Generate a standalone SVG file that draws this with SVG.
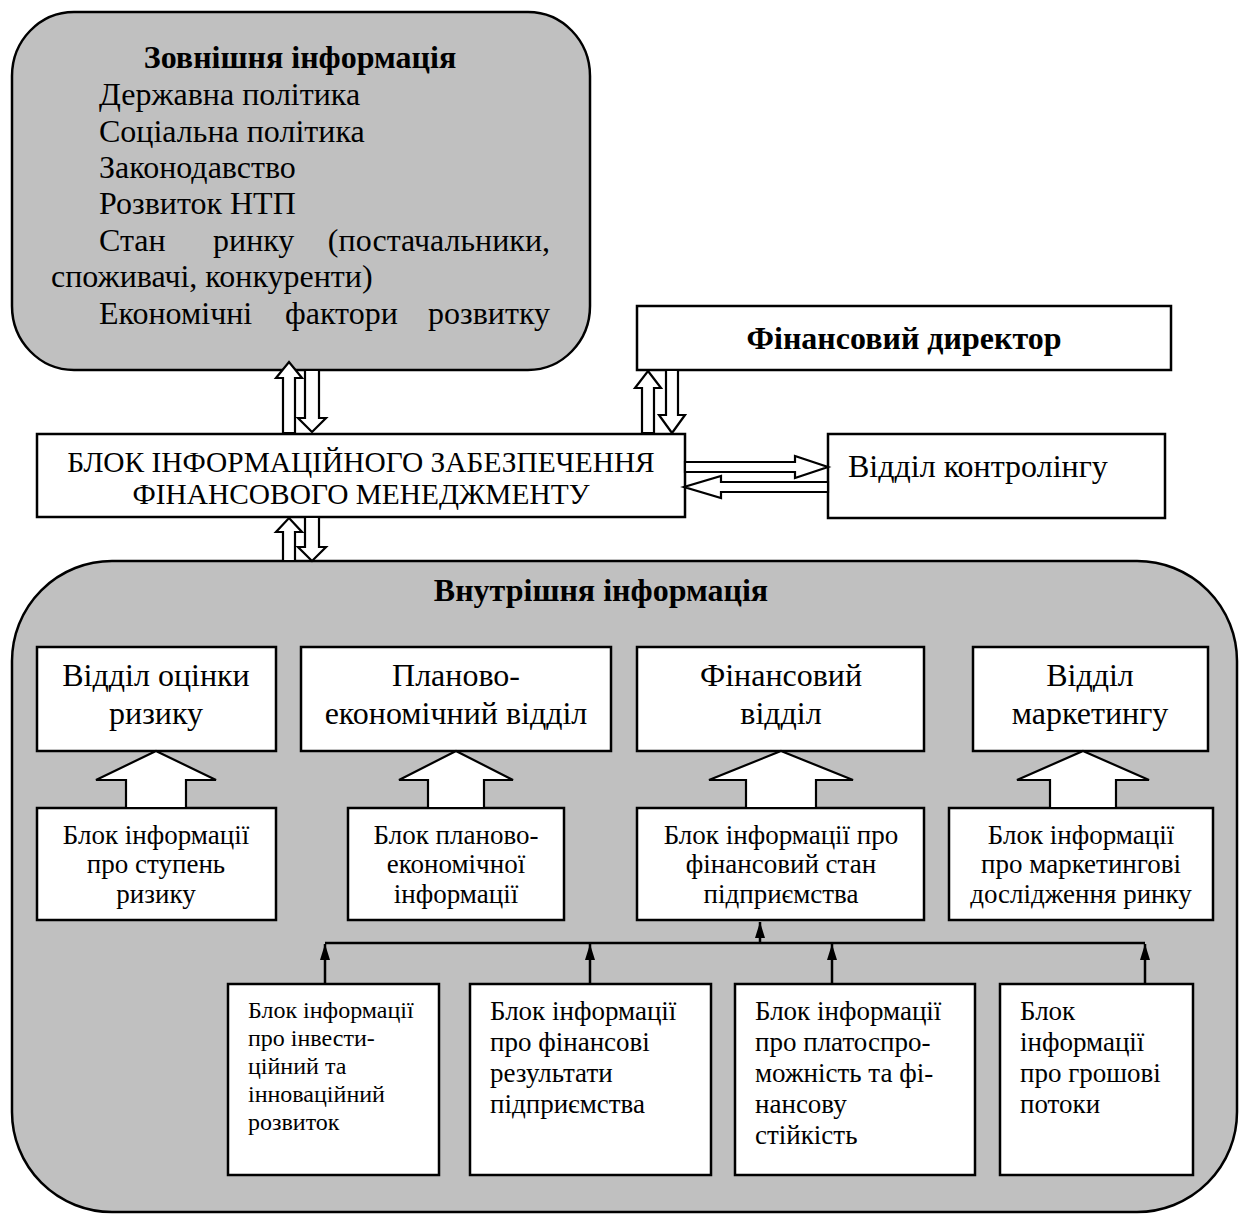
<svg xmlns="http://www.w3.org/2000/svg" width="1241" height="1215" viewBox="0 0 1241 1215">
<style>
text{font-family:"Liberation Serif","Times New Roman",serif;fill:#000}
.big{font-size:32px}
.bold{font-size:32px;font-weight:bold}
.mid{font-size:27px}
.sm{font-size:24px}
.c{text-anchor:middle}
.e{text-anchor:end}
.box{fill:#fff;stroke:#000;stroke-width:2.5}
.area{fill:#c0c0c0;stroke:#000;stroke-width:2.5}
.harrow{fill:#fff;stroke:#000;stroke-width:2.2;stroke-linejoin:miter}
.line{fill:none;stroke:#000;stroke-width:2.5}
</style>
<defs>
<marker id="tri" viewBox="0 0 16 10" refX="16" refY="5" markerWidth="16" markerHeight="10" markerUnits="userSpaceOnUse" orient="auto">
<path d="M0,0 L16,5 L0,10 Z" fill="#000"/>
</marker>
</defs>

<g id="external">
<rect class="area" x="12" y="12" width="578" height="358" rx="62" ry="64"/>
<text class="bold c" x="300" y="68">Зовнішня інформація</text>
<text class="big" x="99" y="105">Державна політика</text>
<text class="big" x="99" y="142">Соціальна політика</text>
<text class="big" x="99" y="178">Законодавство</text>
<text class="big" x="99" y="214">Розвиток НТП</text>
<text class="big" x="99" y="251">Стан</text>
<text class="big" x="213" y="251">ринку</text>
<text class="big e" x="550" y="251">(постачальники,</text>
<text class="big" x="51" y="287">споживачі, конкуренти)</text>
<text class="big" x="99" y="324">Економічні</text>
<text class="big" x="285" y="324">фактори</text>
<text class="big e" x="550" y="324">розвитку</text>
</g>

<g id="director">
<rect class="box" x="637" y="306" width="534" height="64"/>
<text class="bold c" x="904" y="349">Фінансовий директор</text>
</g>

<g id="infoblock">
<rect class="box" x="37" y="434" width="648" height="83"/>
<text class="c" x="361" y="472" style="font-size:29.4px">БЛОК ІНФОРМАЦІЙНОГО ЗАБЕЗПЕЧЕННЯ</text>
<text class="c" x="361" y="504" style="font-size:29.4px">ФІНАНСОВОГО МЕНЕДЖМЕНТУ</text>
</g>

<g id="controlling">
<rect class="box" x="828" y="434" width="337" height="84"/>
<text class="big" x="848" y="477">Відділ контролінгу</text>
</g>

<g id="internal">
<rect class="area" x="12" y="561" width="1225" height="651" rx="100" ry="100"/>
<text class="bold c" x="601" y="601">Внутрішня інформація</text>
</g>

<g id="dept-risk">
<rect class="box" x="37" y="647" width="239" height="104"/>
<text class="big c" x="156" y="686">Відділ оцінки</text>
<text class="big c" x="156" y="724">ризику</text>
</g>
<g id="dept-plan">
<rect class="box" x="301" y="647" width="310" height="104"/>
<text class="big c" x="456" y="686">Планово-</text>
<text class="big c" x="456" y="724">економічний відділ</text>
</g>
<g id="dept-fin">
<rect class="box" x="637" y="647" width="287" height="104"/>
<text class="big c" x="781" y="686">Фінансовий</text>
<text class="big c" x="781" y="724">відділ</text>
</g>
<g id="dept-mkt">
<rect class="box" x="973" y="647" width="235" height="104"/>
<text class="big c" x="1090" y="686">Відділ</text>
<text class="big c" x="1090" y="724">маркетингу</text>
</g>

<g id="info-risk">
<rect class="box" x="37" y="808" width="239" height="112"/>
<text class="mid c" x="156" y="844">Блок інформації</text>
<text class="mid c" x="156" y="873">про ступень</text>
<text class="mid c" x="156" y="903">ризику</text>
</g>
<g id="info-plan">
<rect class="box" x="348" y="808" width="216" height="112"/>
<text class="mid c" x="456" y="844">Блок планово-</text>
<text class="mid c" x="456" y="873">економічної</text>
<text class="mid c" x="456" y="903">інформації</text>
</g>
<g id="info-fin">
<rect class="box" x="637" y="808" width="287" height="112"/>
<text class="mid c" x="781" y="844">Блок інформації про</text>
<text class="mid c" x="781" y="873">фінансовий стан</text>
<text class="mid c" x="781" y="903">підприємства</text>
</g>
<g id="info-mkt">
<rect class="box" x="949" y="808" width="264" height="112"/>
<text class="mid c" x="1081" y="844">Блок інформації</text>
<text class="mid c" x="1081" y="873">про маркетингові</text>
<text class="mid c" x="1081" y="903">дослідження ринку</text>
</g>

<g id="info-invest">
<rect class="box" x="228" y="984" width="211" height="191"/>
<text class="sm" x="248" y="1018">Блок інформації</text>
<text class="sm" x="248" y="1046">про інвести-</text>
<text class="sm" x="248" y="1074">ційний та</text>
<text class="sm" x="248" y="1102">інноваційний</text>
<text class="sm" x="248" y="1130">розвиток</text>
</g>
<g id="info-results">
<rect class="box" x="470" y="984" width="241" height="191"/>
<text class="mid" x="490" y="1020">Блок інформації</text>
<text class="mid" x="490" y="1051">про фінансові</text>
<text class="mid" x="490" y="1082">результати</text>
<text class="mid" x="490" y="1113">підприємства</text>
</g>
<g id="info-solvency">
<rect class="box" x="735" y="984" width="240" height="191"/>
<text class="mid" x="755" y="1020">Блок інформації</text>
<text class="mid" x="755" y="1051">про платоспро-</text>
<text class="mid" x="755" y="1082">можність та фі-</text>
<text class="mid" x="755" y="1113">нансову</text>
<text class="mid" x="755" y="1144">стійкість</text>
</g>
<g id="info-cash">
<rect class="box" x="1000" y="984" width="193" height="191"/>
<text class="mid" x="1020" y="1020">Блок</text>
<text class="mid" x="1020" y="1051">інформації</text>
<text class="mid" x="1020" y="1082">про грошові</text>
<text class="mid" x="1020" y="1113">потоки</text>
</g>

<g id="connectors">
<polygon class="harrow" points="289,362 302,378 295,378 295,433 283,433 283,378 276,378"/>
<polygon class="harrow" points="305,370 319,370 319,418 326,418 312,432 298,418 305,418"/>
<polygon class="harrow" points="289,518 302,532 295,532 295,561 283,561 283,532 276,532"/>
<polygon class="harrow" points="305,517 319,517 319,547 326,547 312,561 298,547 305,547"/>
<polygon class="harrow" points="648,371 661,388 654,388 654,433 642,433 642,388 635,388"/>
<polygon class="harrow" points="666,370 678,370 678,415 685,415 672,433 659,415 666,415"/>
<polygon class="harrow" points="685,462 795,462 795,456 828,467 795,478 795,472 685,472"/>
<polygon class="harrow" points="828,482 721,482 721,476 684,487 721,498 721,492 828,492"/>
<polygon class="harrow" points="156,751 216,780 186,780 186,808 126,808 126,780 96,780"/>
<polygon class="harrow" points="456,751 513,780 484,780 484,808 428,808 428,780 399,780"/>
<polygon class="harrow" points="781,751 853,780 816,780 816,808 746,808 746,780 709,780"/>
<polygon class="harrow" points="1083,751 1149,780 1116,780 1116,808 1050,808 1050,780 1017,780"/>
<line class="line" x1="325" y1="943" x2="1145" y2="943"/>
<line class="line" x1="760" y1="943" x2="760" y2="922" marker-end="url(#tri)"/>
<line class="line" x1="325" y1="984" x2="325" y2="944" marker-end="url(#tri)"/>
<line class="line" x1="590" y1="984" x2="590" y2="944" marker-end="url(#tri)"/>
<line class="line" x1="832" y1="984" x2="832" y2="944" marker-end="url(#tri)"/>
<line class="line" x1="1145" y1="984" x2="1145" y2="944" marker-end="url(#tri)"/>
</g>
</svg>
